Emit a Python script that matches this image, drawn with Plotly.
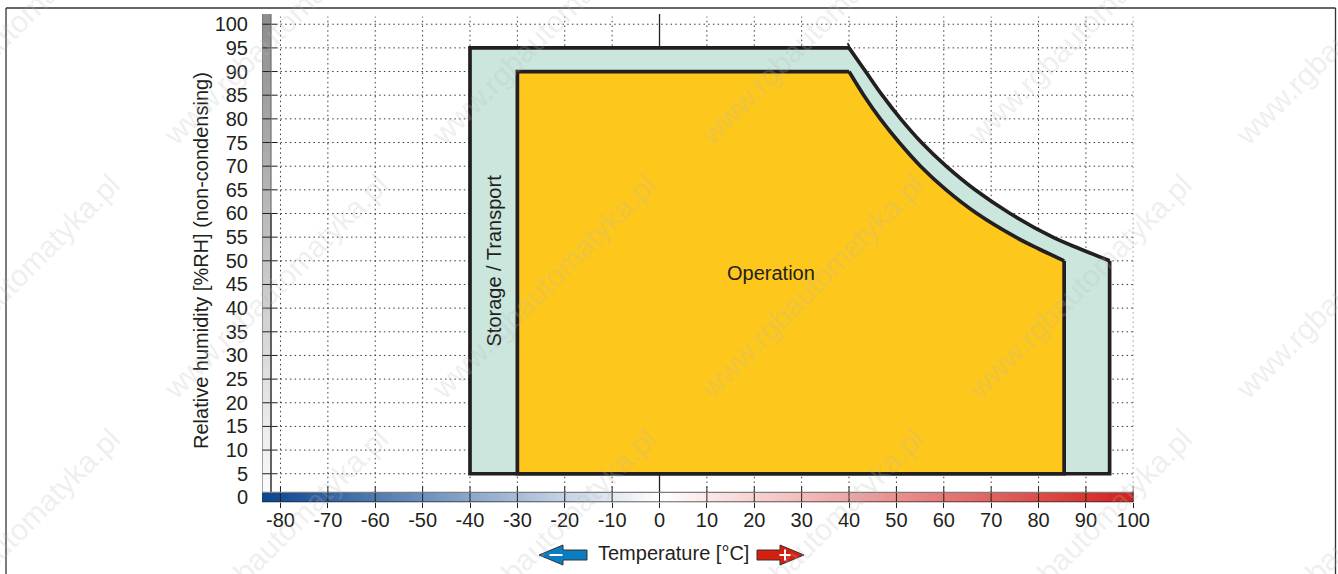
import plotly.graph_objects as go

W, H = 1338, 574
INK = "#231f20"
FONT = "Liberation Sans, Arial, sans-serif"

# ---- data ----
x_ticks = [-80, -70, -60, -50, -40, -30, -20, -10, 0, 10, 20, 30, 40, 50, 60, 70, 80, 90, 100]
y_ticks = [0, 5, 10, 15, 20, 25, 30, 35, 40, 45, 50, 55, 60, 65, 70, 75, 80, 85, 90, 95, 100]

storage_curve_t = [40, 43.5, 47, 50.9, 55.3, 60.5, 66.6, 74, 83, 88.8, 95]
storage_curve_h = [95, 90, 85, 80, 75, 70, 65, 60, 55, 52.5, 50]
storage_left_t = [95, 95, -40, -40, 40]
storage_left_h = [50, 5, 5, 95, 95]

operation_curve_t = [40, 43.1, 46.6, 50.6, 55.1, 60.5, 67, 75.2, 80.1, 85.4]
operation_curve_h = [90, 85, 80, 75, 70, 65, 60, 55, 52.5, 50]
operation_left_t = [85.4, 85.4, -30, -30, 40]
operation_left_h = [50, 5, 5, 90, 90]

watermark_text = "www.rgbautomatyka.pl"
watermark_cols = [115, 383, 651, 919, 1187, 1455]
watermark_rows = [-75, 179, 433]

# ---- axis windows ----
x_range = [-83.9, 100.02]
y_range = [-1.035, 102.16]
domain_x = [262 / W, 1133.4 / W]
domain_y = [1 - 502.3 / H, 1 - 14 / H]
left, right = -83.9, 100.02
bar_top = 1.08
side_right = -82.0


def px(v):
    return v / W


def py(v):
    return 1 - v / H


fig = go.Figure()

# colour bands on the axes
steps = [left + i * 0.5 for i in range(369)]
fig.add_trace(go.Heatmap(
    x=steps, y=[-1.035, bar_top],
    z=[[s + 0.25 for s in steps[:-1]]],
    zmin=-83.9, zmax=100,
    colorscale=[[0, "#0a4590"], [83.9 / 183.9, "#ffffff"], [1, "#d2201c"]],
    showscale=False, hoverinfo="skip"))
rows = [bar_top + i * 1.0 for i in range(102)]
fig.add_trace(go.Heatmap(
    x=[left, side_right], y=rows,
    z=[[r] for r in rows[:-1]],
    zmin=0, zmax=102,
    colorscale=[[0, "#fbfbfb"], [1, "#8c8c8b"]],
    showscale=False, hoverinfo="skip"))

# dotted grid
for v in x_ticks:
    fig.add_trace(go.Scatter(x=[v, v], y=[bar_top, 101.6], mode="lines",
                             line=dict(color="#3a3a3a", width=1, dash="1.5px,3.2px"),
                             hoverinfo="skip", showlegend=False))
for v in y_ticks[1:]:
    fig.add_trace(go.Scatter(x=[-80, 100], y=[v, v], mode="lines",
                             line=dict(color="#3a3a3a", width=1, dash="1.5px,3.2px"),
                             hoverinfo="skip", showlegend=False))

# zero line pieces
fig.add_trace(go.Scatter(x=[0, 0], y=[95, 102.16], mode="lines",
                         line=dict(color=INK, width=1.3), hoverinfo="skip", showlegend=False))
fig.add_trace(go.Scatter(x=[0, 0], y=[5, bar_top], mode="lines",
                         line=dict(color=INK, width=1.3), hoverinfo="skip", showlegend=False))

# regions
fig.add_trace(go.Scatter(
    x=storage_curve_t + storage_left_t, y=storage_curve_h + storage_left_h,
    mode="lines", fill="toself", fillcolor="#cae6dd", line=dict(width=0),
    hoverinfo="skip", showlegend=False, name="Storage / Transport"))
fig.add_trace(go.Scatter(
    x=operation_curve_t + operation_left_t, y=operation_curve_h + operation_left_h,
    mode="lines", fill="toself", fillcolor="#fec71b", line=dict(width=0),
    hoverinfo="skip", showlegend=False, name="Operation"))
for tx, ty, shape in [(storage_left_t, storage_left_h, "linear"),
                      (operation_left_t, operation_left_h, "linear"),
                      (storage_curve_t, storage_curve_h, "spline"),
                      (operation_curve_t, operation_curve_h, "spline")]:
    fig.add_trace(go.Scatter(x=tx, y=ty, mode="lines",
                             line=dict(color=INK, width=3.7, shape=shape),
                             hoverinfo="skip", showlegend=False))
# tip above the top of the outer outline
fig.add_trace(go.Scatter(x=[39.7, 40.4], y=[96, 94.5], mode="lines",
                         line=dict(color=INK, width=1.8), hoverinfo="skip", showlegend=False))

# axis ticks crossing the frame of the bands
for v in y_ticks[1:]:
    fig.add_trace(go.Scatter(x=[-84.9, -80.6], y=[v, v], mode="lines", cliponaxis=False,
                             line=dict(color=INK, width=1), hoverinfo="skip", showlegend=False))
for v in x_ticks:
    fig.add_trace(go.Scatter(x=[v, v], y=[2.3, -2.3], mode="lines", cliponaxis=False,
                             line=dict(color=INK, width=1), hoverinfo="skip", showlegend=False))

# band edges
fig.add_trace(go.Scatter(x=[left, left, side_right, side_right], y=[bar_top, 102.16, 102.16, bar_top],
                         mode="lines", line=dict(color="#6f6f6f", width=1.2),
                         hoverinfo="skip", showlegend=False))
fig.add_trace(go.Scatter(x=[side_right, side_right], y=[bar_top, 60], mode="lines",
                         line=dict(color=INK, width=1), hoverinfo="skip", showlegend=False))
fig.add_trace(go.Scatter(x=[left, right], y=[bar_top, bar_top], mode="lines",
                         line=dict(color="#7d7d7d", width=1.3), hoverinfo="skip", showlegend=False))
fig.add_trace(go.Scatter(x=[left, right], y=[-1.0, -1.0], mode="lines",
                         line=dict(color=INK, width=1.2), hoverinfo="skip", showlegend=False))
fig.add_trace(go.Scatter(x=[right, right], y=[bar_top, -1.0], mode="lines",
                         line=dict(color=INK, width=1), hoverinfo="skip", showlegend=False))


def arrow(pts, fill):
    d = "M" + " L".join(f"{px(a):.5f},{py(b):.5f}" for a, b in pts) + " Z"
    return dict(type="path", xref="paper", yref="paper", path=d,
                fillcolor=fill, line=dict(color="#333333", width=1))


def seg(x0, y0, x1, y1, color, width):
    return dict(type="line", xref="paper", yref="paper",
                x0=px(x0), y0=py(y0), x1=px(x1), y1=py(y1),
                line=dict(color=color, width=width))


shapes = [
    # outer frame of the page
    seg(6, 574, 6, 8, "#333333", 1.3),
    seg(6, 8, 1335.5, 8, "#333333", 1.3),
    seg(1335.5, 8, 1335.5, 574, "#333333", 1.3),
    arrow([(539, 555), (563, 545), (563, 550), (587, 550), (587, 560), (563, 560), (563, 565)], "#0a7cc1"),
    arrow([(757, 550), (780, 550), (780, 545), (804, 555), (780, 565), (780, 560), (757, 560)], "#d4200c"),
    seg(549.5, 555, 562.5, 555, "#ffffff", 2),
    seg(779.5, 555, 790.5, 555, "#ffffff", 2),
    seg(785, 549.5, 785, 560.5, "#ffffff", 2),
]


def label(cx, cy, text, angle=0, size=20):
    return dict(x=px(cx), y=py(cy), xref="paper", yref="paper", text=text, textangle=angle,
                xanchor="center", yanchor="middle", showarrow=False,
                font=dict(family=FONT, size=size, color=INK))


annotations = [
    label(770.5, 273, "Operation"),
    label(493.5, 261, "Storage / Transport", -90),
    label(673.5, 552.5, "Temperature [°C]"),
    label(201, 261, "Relative humidity [%RH] (non-condensing)", -90),
]
for cx in watermark_cols:
    for cy in watermark_rows:
        annotations.append(dict(
            x=px(cx - 107.5), y=py(cy + 107.5), xref="paper", yref="paper",
            xanchor="center", yanchor="middle",
            text=watermark_text, textangle=-45, showarrow=False,
            font=dict(family=FONT, size=30, color="rgba(185,185,185,0.24)")))

fig.update_layout(
    width=W, height=H, autosize=False,
    margin=dict(l=0, r=0, t=0, b=0, pad=0),
    paper_bgcolor="#ffffff", plot_bgcolor="#ffffff",
    showlegend=False,
    font=dict(family=FONT, size=20, color=INK),
    shapes=shapes, annotations=annotations,
    xaxis=dict(domain=domain_x, range=x_range, tickmode="array", tickvals=x_ticks,
               ticktext=[str(v) for v in x_ticks], ticks="outside", ticklen=5, tickcolor=INK,
               showgrid=False, zeroline=False, showline=False, automargin=False,
               ticklabelstandoff=-5),
    yaxis=dict(domain=domain_y, range=y_range, tickmode="array", tickvals=y_ticks,
               ticktext=[str(v) for v in y_ticks], ticks="", showgrid=False, zeroline=False,
               showline=False, automargin=False, ticklabelstandoff=13),
)

fig.write_html("out.html", config=dict(displayModeBar=False, responsive=False),
               post_script="document.body.style.margin='0';")
